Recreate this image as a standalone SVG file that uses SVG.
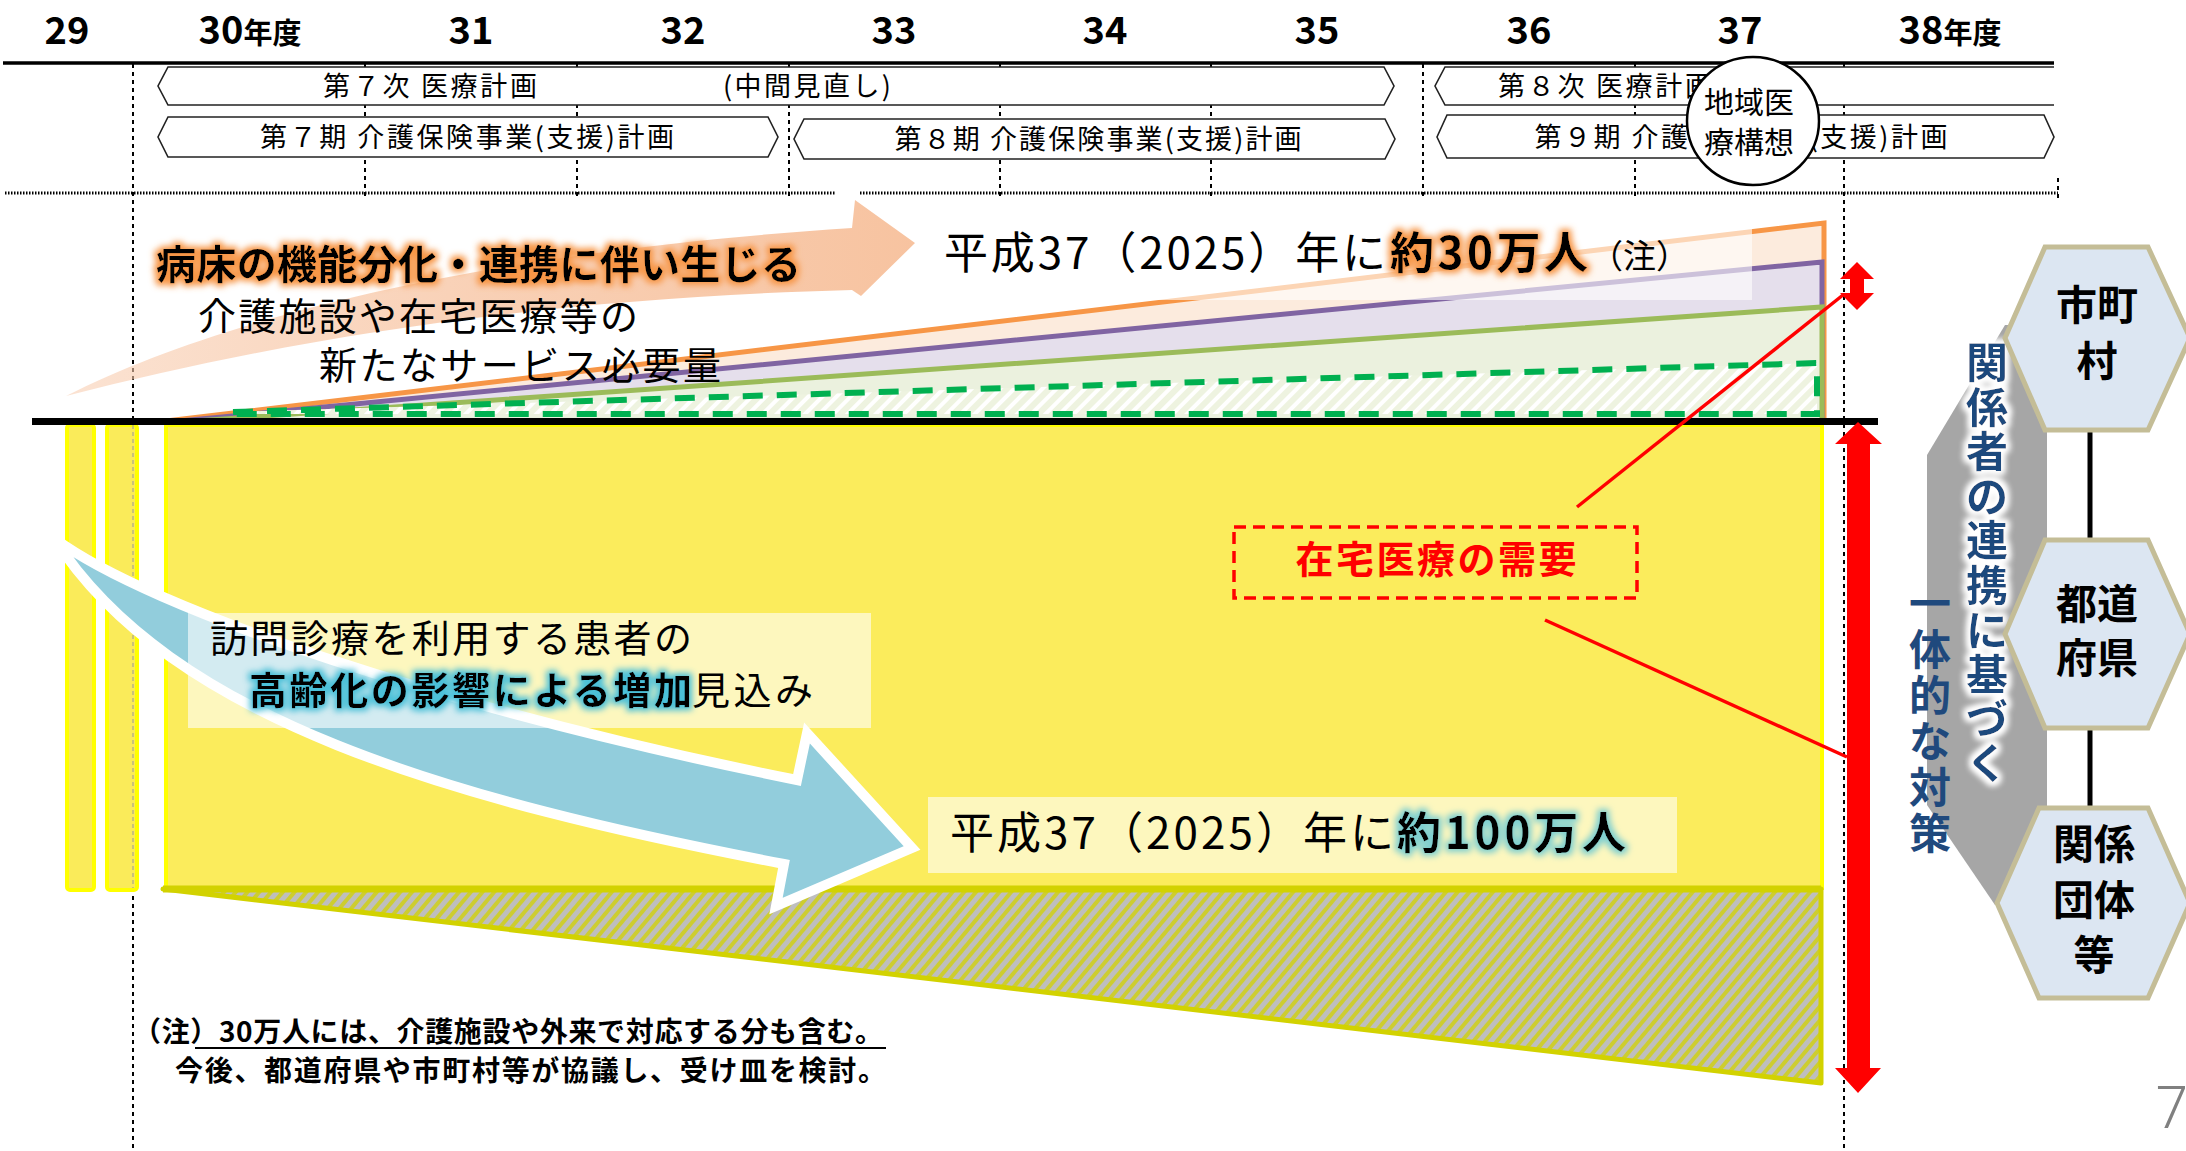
<svg xmlns="http://www.w3.org/2000/svg" width="2186" height="1151" viewBox="0 0 2186 1151">
<defs>
<style>
text { font-family: "Noto Sans CJK JP", "Noto Sans", sans-serif; fill: #000; }
.yr { font-size: 38px; font-weight: 700; text-anchor: middle; }
.yrs { font-size: 29px; }
.bar { fill: #fff; stroke: #222; stroke-width: 1.6; }
.bt { font-size: 27px; text-anchor: middle; }
.grid { stroke: #000; stroke-width: 2; stroke-dasharray: 4 4; fill: none; }
.dot { stroke: #000; stroke-width: 3; stroke-dasharray: 1.5 1.5; fill: none; }
.hex { fill: #DCE6F2; stroke: #C4BD97; stroke-width: 5; }
.hx { font-size: 41px; font-weight: 700; text-anchor: middle; }
.vt { font-size: 42px; font-weight: 700; text-anchor: middle; fill: #1F497D; }
.wbox { fill: #fff; fill-opacity: 0.6; }
.big { font-size: 44px; }
.note { font-size: 28px; font-weight: 700; }
.red { stroke: #FF0000; stroke-width: 3.5; fill: none; }
.rarrow { fill: #FF0000; }
</style>
<linearGradient id="gOr" x1="0" y1="0" x2="1" y2="0">
<stop offset="0" stop-color="#F8CBAD" stop-opacity="0.55"/>
<stop offset="0.5" stop-color="#F8CBAD" stop-opacity="0.9"/>
<stop offset="1" stop-color="#F7C3A0" stop-opacity="1"/>
</linearGradient>
<pattern id="hatchL" patternUnits="userSpaceOnUse" width="10" height="10" patternTransform="rotate(45)">
<rect width="10" height="10" fill="#EEF3E0"/>
<rect width="4" height="10" fill="#FFFFFF"/>
</pattern>
<pattern id="hatchB" patternUnits="userSpaceOnUse" width="9" height="9" patternTransform="rotate(40)">
<rect width="9" height="9" fill="#CDCD30"/>
<rect width="5" height="9" fill="#BEBEBE"/>
</pattern>
<filter id="glowO" x="-5%" y="-40%" width="110%" height="180%">
<feMorphology in="SourceAlpha" operator="dilate" radius="2.5" result="d"/>
<feGaussianBlur in="d" stdDeviation="3" result="b"/>
<feFlood flood-color="#F79646"/>
<feComposite in2="b" operator="in" result="g"/>
<feMerge><feMergeNode in="g"/><feMergeNode in="SourceGraphic"/></feMerge>
</filter>
<filter id="glowB" x="-5%" y="-40%" width="110%" height="180%">
<feMorphology in="SourceAlpha" operator="dilate" radius="2.5" result="d"/>
<feGaussianBlur in="d" stdDeviation="3" result="b"/>
<feFlood flood-color="#4BC0D8"/>
<feComposite in2="b" operator="in" result="g"/>
<feMerge><feMergeNode in="g"/><feMergeNode in="SourceGraphic"/></feMerge>
</filter>
<filter id="glowT" x="-5%" y="-40%" width="110%" height="180%">
<feMorphology in="SourceAlpha" operator="dilate" radius="2.5" result="d"/>
<feGaussianBlur in="d" stdDeviation="3" result="b"/>
<feFlood flood-color="#7FCFD0"/>
<feComposite in2="b" operator="in" result="g"/>
<feMerge><feMergeNode in="g"/><feMergeNode in="SourceGraphic"/></feMerge>
</filter>
<filter id="glowW" x="-40%" y="-5%" width="180%" height="110%">
<feMorphology in="SourceAlpha" operator="dilate" radius="3" result="d"/>
<feGaussianBlur in="d" stdDeviation="3" result="b"/>
<feFlood flood-color="#FFFFFF"/>
<feComposite in2="b" operator="in" result="g"/>
<feMerge><feMergeNode in="g"/><feMergeNode in="g"/><feMergeNode in="SourceGraphic"/></feMerge>
</filter>
</defs>

<rect width="2186" height="1151" fill="#fff"/>

<g id="timeline">
<text class="yr" x="67" y="44">29</text>
<text class="yr" x="250" y="44">30<tspan class="yrs">年度</tspan></text>
<text class="yr" x="471" y="44">31</text>
<text class="yr" x="683" y="44">32</text>
<text class="yr" x="894" y="44">33</text>
<text class="yr" x="1105" y="44">34</text>
<text class="yr" x="1317" y="44">35</text>
<text class="yr" x="1529" y="44">36</text>
<text class="yr" x="1740" y="44">37</text>
<text class="yr" x="1950" y="44">38<tspan class="yrs">年度</tspan></text>
<line x1="3" y1="63" x2="2054" y2="63" stroke="#000" stroke-width="3.5"/>
<path class="grid" d="M133,64V1151 M1844,64V1151 M365,64V200 M577,64V200 M789,64V200 M1000,64V200 M1211,64V200 M1423,64V200 M1635,64V200 M2058,178V200"/>
<path class="dot" d="M5,193H835 M860,193H2058"/>
</g>

<g id="plan-bars">
<path class="bar" d="M168,67H1384L1394,86L1384,105H168L158,86Z"/>
<text class="bt" x="430" y="96" textLength="214">第７次 医療計画</text>
<text class="bt" x="807" y="96" textLength="168">(中間見直し)</text>
<path class="bar" d="M168,117H768L778,137L768,157H168L158,137Z"/>
<text class="bt" x="467" y="147" textLength="414">第７期 介護保険事業(支援)計画</text>
<path class="bar" d="M804,119H1385L1395,139L1385,159H804L794,139Z"/>
<text class="bt" x="1098" y="149" textLength="407">第８期 介護保険事業(支援)計画</text>
<path class="bar" d="M2054,67H1445L1435,86L1445,105H2054"/>
<text class="bt" x="1605" y="96" textLength="214">第８次 医療計画</text>
<path class="bar" d="M1447,115H2044L2054,137L2044,158H1447L1437,137Z"/>
<text class="bt" x="1741" y="147" textLength="413">第９期 介護保険事業(支援)計画</text>
</g>

<g id="chiiki-iryo-koso">
<ellipse cx="1753" cy="121" rx="66" ry="64" fill="#fff" stroke="#000" stroke-width="2.5"/>
<text x="1749" y="113" font-size="30" text-anchor="middle">地域医</text>
<text x="1749" y="153" font-size="30" text-anchor="middle">療構想</text>
</g>

<g id="new-service-arrow">
<path d="M66,396 C220,318 480,252 852,228 L855,200 L915,243 L861,296 L852,290 C550,298 300,336 66,396 Z" fill="url(#gOr)"/>
</g>

<g id="new-service-wedges">
<path d="M166,421 L1824,223 L1824,421 Z" fill="#FCEBDD" stroke="#F79646" stroke-width="5" stroke-linejoin="miter"/>
<path d="M180,421 L1822,262 L1822,421 Z" fill="#E5DFEC" stroke="#8064A2" stroke-width="5"/>
<path d="M195,421 L1822,307 L1822,421 Z" fill="#EBF1DE" stroke="#9BBB59" stroke-width="5"/>
<path d="M233,412 L1817,363 L1817,414 L233,414" fill="url(#hatchL)" stroke="#00B050" stroke-width="6" stroke-dasharray="20 14"/>
</g>

<g id="label-30man">
<rect class="wbox" x="920" y="222" width="832" height="78"/>
<text class="big" x="944" y="269" textLength="442">平成37（2025）年に</text>
<text class="big" x="1390" y="269" font-weight="700" textLength="198" filter="url(#glowO)">約30万人</text>
<text x="1590" y="268" font-size="33">（注）</text>
</g>

<g id="label-new-service">
<text x="156" y="279" font-size="40" font-weight="700" textLength="645" filter="url(#glowO)">病床の機能分化・連携に伴い生じる</text>
<text x="198" y="330" font-size="38" textLength="440">介護施設や在宅医療等の</text>
<text x="319" y="379" font-size="38" textLength="402">新たなサービス必要量</text>
</g>

<g id="home-care-area">
<rect x="67" y="425" width="27" height="465" rx="3" fill="#FAEB5A" stroke="#FFFF00" stroke-width="4"/>
<rect x="107" y="425" width="30" height="465" rx="3" fill="#FAEB5A" stroke="#FFFF00" stroke-width="4"/>
<line x1="133" y1="425" x2="133" y2="888" stroke="#999" stroke-width="1" stroke-dasharray="4 3"/>
<rect x="166" y="425" width="1656" height="463" fill="#FBEC5C" stroke="#FFFF00" stroke-width="4"/>
<path d="M163,889 L1821,889 L1821,1083 Z" fill="url(#hatchB)" stroke="#D2D200" stroke-width="5" stroke-linejoin="round"/>
<line x1="163" y1="889" x2="1821" y2="889" stroke="#D2D200" stroke-width="7"/>
</g>

<line id="baseline" x1="32" y1="421.5" x2="1878" y2="421.5" stroke="#000" stroke-width="7"/>

<g id="aging-arrow">
<path d="M54,538 C150,610 450,710 797,780 L807,733 L912,848 L776,906 L784,864 C450,800 170,720 54,538 Z" fill="#92CDDC" stroke="#fff" stroke-width="10" stroke-linejoin="miter"/>
</g>

<g id="label-aging">
<rect class="wbox" x="188" y="613" width="683" height="115"/>
<text x="210" y="652" font-size="38" textLength="482">訪問診療を利用する患者の</text>
<text x="249" y="704" font-size="38" font-weight="700" textLength="443" filter="url(#glowB)">高齢化の影響による増加</text>
<text x="692" y="704" font-size="38" textLength="121">見込み</text>
</g>

<g id="label-100man">
<rect class="wbox" x="928" y="797" width="749" height="76"/>
<text class="big" x="950" y="849" textLength="444">平成37（2025）年に</text>
<text class="big" x="1397" y="849" font-weight="700" textLength="229" filter="url(#glowT)">約100万人</text>
</g>

<g id="home-care-demand">
<rect x="1234" y="527" width="403" height="71" fill="none" stroke="#FF0000" stroke-width="3.5" stroke-dasharray="12 7"/>
<text x="1436" y="573" font-size="38" font-weight="700" text-anchor="middle" textLength="281" style="fill:#FF0000">在宅医療の需要</text>
</g>

<g id="connectors">
<line class="red" x1="1843" y1="295" x2="1577" y2="507"/>
<line class="red" x1="1545" y1="620" x2="1847" y2="757"/>
<path class="rarrow" d="M1857,262 L1874,279 L1864,279 L1864,293 L1874,293 L1857,310 L1840,293 L1850,293 L1850,279 L1840,279 Z"/>
<path class="rarrow" d="M1858,422 L1882,444 L1870,444 L1870,1068 L1881,1068 L1858,1093 L1835,1068 L1847,1068 L1847,444 L1835,444 Z"/>
<line x1="2090" y1="430" x2="2090" y2="540" stroke="#000" stroke-width="5"/>
<line x1="2090" y1="728" x2="2090" y2="808" stroke="#000" stroke-width="5"/>
</g>

<g id="cooperation-band">
<path d="M1927,455 L2005,325 L2047,325 L2047,905 L1995,905 L1927,805 Z" fill="#A6A6A6"/>
<text class="vt" filter="url(#glowW)"><tspan x="1987" y="378">関</tspan><tspan x="1987" y="423">係</tspan><tspan x="1987" y="467">者</tspan><tspan x="1987" y="512">の</tspan><tspan x="1987" y="556">連</tspan><tspan x="1987" y="601">携</tspan><tspan x="1987" y="646">に</tspan><tspan x="1987" y="690">基</tspan><tspan x="1987" y="735">づ</tspan><tspan x="1987" y="779">く</tspan></text>
<text class="vt"><tspan x="1930" y="619">一</tspan><tspan x="1930" y="665">体</tspan><tspan x="1930" y="711">的</tspan><tspan x="1930" y="757">な</tspan><tspan x="1930" y="803">対</tspan><tspan x="1930" y="849">策</tspan></text>
</g>

<g id="hex-municipality">
<path class="hex" d="M2005,338 L2045,247 L2148,247 L2190,338 L2148,430 L2045,430 Z"/>
<text class="hx" x="2097" y="320">市町</text>
<text class="hx" x="2097" y="376">村</text>
</g>
<g id="hex-prefecture">
<path class="hex" d="M2005,634 L2045,540 L2148,540 L2190,634 L2148,728 L2045,728 Z"/>
<text class="hx" x="2097" y="619">都道</text>
<text class="hx" x="2097" y="673">府県</text>
</g>
<g id="hex-organizations">
<path class="hex" d="M1997,903 L2039,808 L2148,808 L2190,903 L2148,998 L2039,998 Z"/>
<text class="hx" x="2094" y="859">関係</text>
<text class="hx" x="2094" y="915">団体</text>
<text class="hx" x="2094" y="970">等</text>
</g>

<g id="note">
<text class="note" x="133" y="1042" textLength="750">（注）30万人には、介護施設や外来で対応する分も含む。</text>
<line x1="195" y1="1048" x2="886" y2="1048" stroke="#000" stroke-width="2"/>
<text class="note" x="175" y="1081" textLength="711">今後、都道府県や市町村等が協議し、受け皿を検討。</text>
</g>

<text x="2155" y="1128" font-size="58" style="fill:#808080;font-family:'Noto Sans',sans-serif;font-weight:300">7</text>
</svg>
